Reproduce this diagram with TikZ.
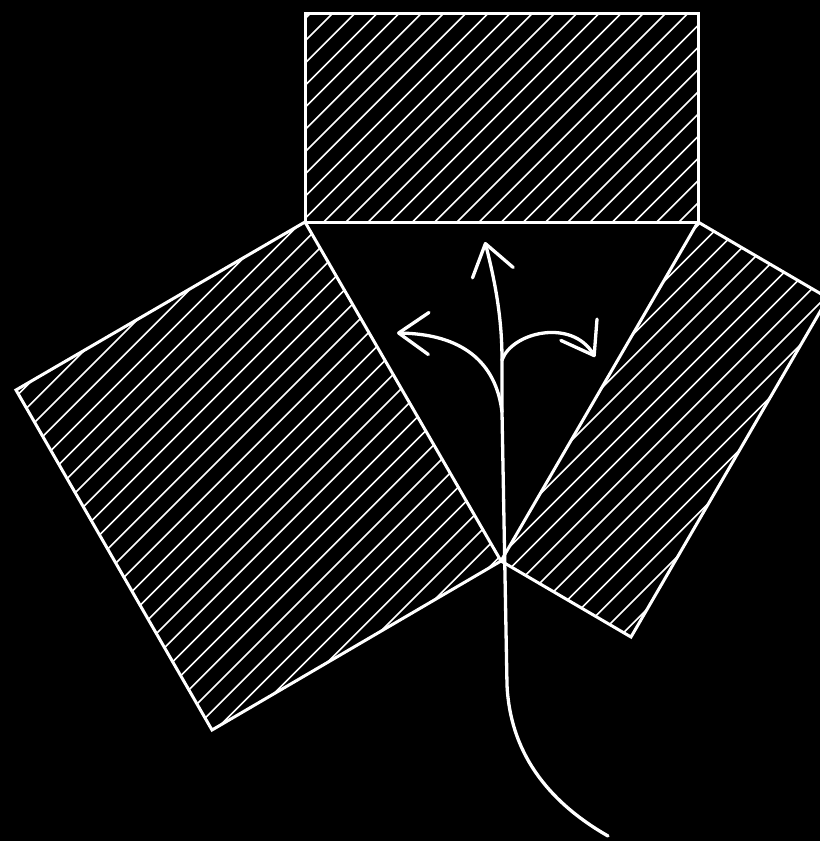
\documentclass[tikz,border=0pt]{standalone}
\usetikzlibrary{arrows.meta}
\begin{document}
\begin{tikzpicture}[x=1pt,y=-1pt,
  outline/.style={draw=white,line width=3pt,line join=miter},
  hatchline/.style={draw=white,line width=1.6pt},
  stemline/.style={draw=white,line width=3.3pt,line cap=round},
  tipped/.style={stemline,-{Straight Barb[length=30pt,width=42pt,line width=3.3pt,round]}}
]
\useasboundingbox (0,0) rectangle (820,841);
\fill[black] (0,0) rectangle (820,841);
\clip (0,0) rectangle (820,841);
% corners
\coordinate (tA) at (305,13);
\coordinate (tB) at (698,13);
\coordinate (Q) at (698,222);
\coordinate (P) at (305,222);
\coordinate (R) at (501,561);
\coordinate (lA) at (212,730);
\coordinate (lB) at (16,390);
\coordinate (rA) at (631,637);
\coordinate (rB) at (828,298);
% hatching
\foreach \poly in {1,2,3}{
  \begin{scope}
    \ifnum\poly=1 \clip (tA) -- (tB) -- (Q) -- (P) -- cycle;\fi
    \ifnum\poly=2 \clip (P) -- (R) -- (lA) -- (lB) -- cycle;\fi
    \ifnum\poly=3 \clip (Q) -- (R) -- (rA) -- (rB) -- cycle;\fi
    \foreach \k in {0,...,62}
      \draw[hatchline] ({13+22.2*\k},0) -- ++(-900,900);
  \end{scope}
}
% outlines
\draw[outline] (tA) -- (tB) -- (Q) -- (P) -- cycle;
\draw[outline] (P) -- (R) -- (lA) -- (lB) -- cycle;
\draw[outline] (Q) -- (R) -- (rA) -- (rB) -- cycle;
% arrows
\coordinate (root) at (608,836);
\coordinate (low) at (507,685);
\coordinate (mergeL) at (502,412);
\coordinate (mergeR) at (502,360);
\coordinate (upTip) at (485,242);
\coordinate (leftTip) at (397,333);
\coordinate (rightTip) at (595,357);
\draw[stemline] (root) .. controls (545,800) and (510,750) .. (low) -- (mergeL) -- (mergeR);
\draw[tipped] (mergeR) .. controls (502,320) and (496,285) .. (upTip);
\draw[tipped] (mergeL) .. controls (496,362) and (462,334) .. (leftTip);
\draw[tipped] (mergeR) .. controls (512,332) and (572,318) .. (rightTip);
\end{tikzpicture}
\end{document}
